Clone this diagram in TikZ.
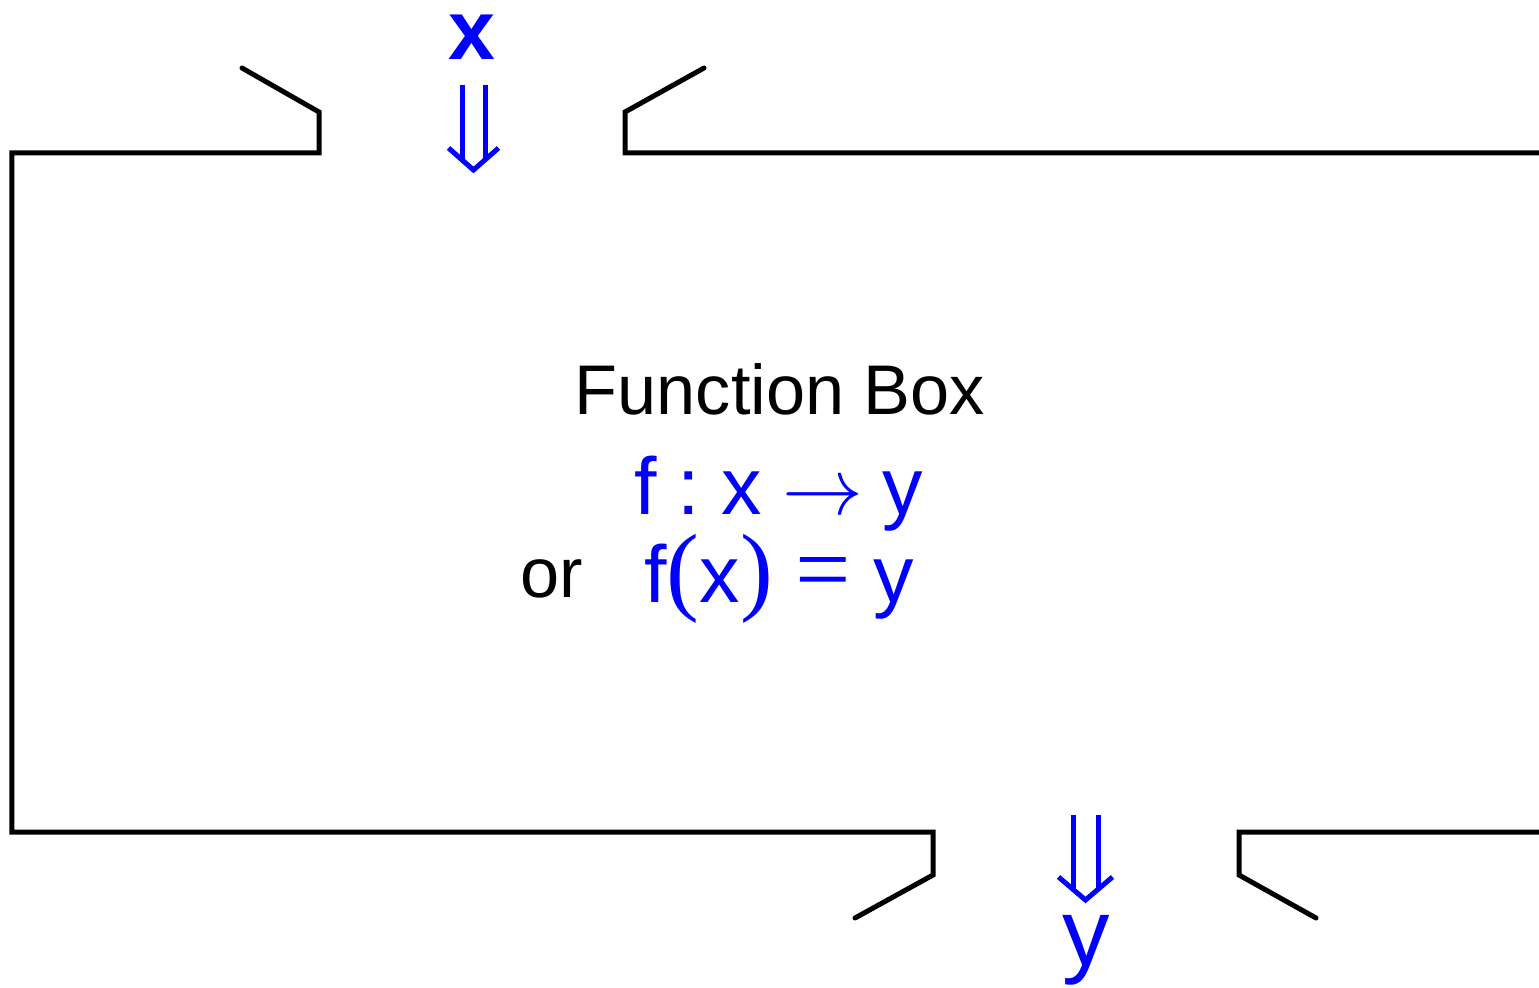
\documentclass[tikz,border=0pt]{standalone}
\usepackage{fix-cm}
\usepackage{fontspec}
\setmainfont{Liberation Sans}
\newfontfamily\symfont{Liberation Serif}
\usetikzlibrary{calc}
\tikzset{
  wall/.style={line width=0.05cm, line cap=round, line join=miter},
  dblarrow/.style={blue, line width=0.05cm, line join=miter},
  lbl/.style={inner sep=0pt, anchor=base},
}
\begin{document}
\begin{tikzpicture}
            \useasboundingbox (0,0) rectangle (15.39,9.87);
            % the box, with its two openings
            \draw[wall] (2.42,9.19) -- (3.19,8.75) -- (3.19,8.34) -- (0.12,8.34) -- (0.12,1.55) -- (9.33,1.55) -- (9.33,1.12) -- (8.55,0.69);
            \draw[wall] (7.04,9.19) -- (6.25,8.75) -- (6.25,8.34) -- (15.6,8.34);
            \draw[wall] (13.16,0.69) -- (12.39,1.12) -- (12.39,1.55) -- (15.6,1.55);
            % input and output
            \node[lbl, text=blue, font=\fontsize{24}{27}\selectfont\bfseries] (xin) at (4.72,9.27) {x};
            \node[lbl, text=blue, font=\fontsize{27}{30}\selectfont] (yout) at (10.86,0.22) {y};
            \coordinate (xstem) at (4.735,9.02);
            \coordinate (xtip) at (4.735,8.17);
            \coordinate (ystem) at (10.855,1.72);
            \coordinate (ytip) at (10.855,0.87);
            \draw[dblarrow] ($(xstem)+(-0.115,0)$) -- ($(xtip)+(-0.115,0.1)$);
            \draw[dblarrow] ($(xstem)+(0.115,0)$) -- ($(xtip)+(0.115,0.1)$);
            \draw[dblarrow] ($(xtip)+(-0.25,0.22)$) -- (xtip) -- ($(xtip)+(0.25,0.22)$);
            \draw[dblarrow] ($(ystem)+(-0.125,0)$) -- ($(ytip)+(-0.125,0.1)$);
            \draw[dblarrow] ($(ystem)+(0.125,0)$) -- ($(ytip)+(0.125,0.1)$);
            \draw[dblarrow] ($(ytip)+(-0.27,0.23)$) -- (ytip) -- ($(ytip)+(0.27,0.23)$);
            % inside the box
            \node[lbl, font=\fontsize{20}{23}\selectfont] (title) at (7.80,5.72) {Function Box};
            \node[lbl, text=blue, font=\fontsize{23}{26}\selectfont] (mapto) at (7.79,4.72) {f\hspace{0.2cm}:\hspace{0.22cm}x\hspace{0.2cm}$\rightarrow$\hspace{0.2cm}y};
            \node[lbl, anchor=base west, font=\fontsize{20}{22}\selectfont] (orlbl) at (5.20,3.90) {or};
            \node[lbl, text=blue, font=\fontsize{23}{26}\selectfont] (fofx) at (7.79,3.84) {f{\symfont\fontsize{28}{30}\selectfont(}x{\symfont\fontsize{28}{30}\selectfont)} {\symfont\fontsize{28}{30}\selectfont=} y};
        \end{tikzpicture}
\end{document}
